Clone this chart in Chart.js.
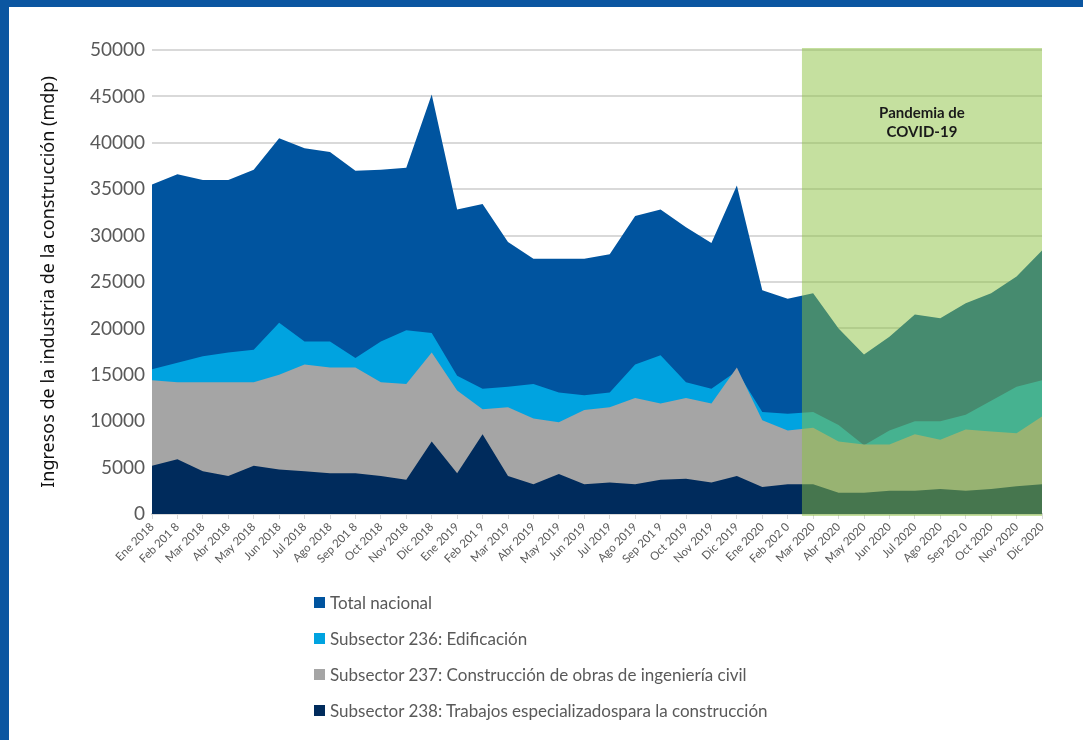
<!DOCTYPE html>
<html lang="es">
<head>
    <meta charset="UTF-8">
    <title>Ingresos de la industria de la construcción</title>
    <script src="https://cdn.jsdelivr.net/npm/chart.js"></script>
    <style>
        html, body {
            margin: 0;
            padding: 0;
            background: #fff;
        }
        .page {
            position: relative;
            width: 1083px;
            height: 740px;
            overflow: hidden;
            background: #fff;
        }
        .bar-top {
            position: absolute;
            left: 0; top: 0;
            width: 1083px; height: 7px;
            background: #0b56a1;
        }
        .bar-left {
            position: absolute;
            left: 0; top: 0;
            width: 9px; height: 740px;
            background: #0b56a1;
        }
        #chart {
            position: absolute;
            left: 0; top: 0;
        }
        .legend {
            position: absolute;
            left: 314px;
            top: 584px;
            font-family: Lato, "Noto Sans", sans-serif;
            font-size: 17px;
            color: #595959;
        }
        .legend div {
            height: 36px;
            display: flex;
            align-items: center;
        }
        .legend span.box {
            display: inline-block;
            width: 11px;
            height: 11px;
            margin-right: 5px;
        }
    </style>
</head>
<body>
<div class="page">
    <canvas id="chart" width="1083" height="740"></canvas>
    <div class="bar-top"></div>
    <div class="bar-left"></div>
    <div class="legend" id="legend"></div>
</div>

<script>
    const months = ['Ene 2018', 'Feb 201 8', 'Mar 2018', 'Abr 2018', 'May 2018', 'Jun 2018', 'Jul 2018', 'Ago 2018',
        'Sep 201 8', 'Oct 2018', 'Nov 2018', 'Dic 2018', 'Ene 2019', 'Feb 201 9', 'Mar 2019', 'Abr 2019',
        'May 2019', 'Jun 2019', 'Jul 2019', 'Ago 2019', 'Sep 201 9', 'Oct 2019', 'Nov 2019', 'Dic 2019',
        'Ene 2020', 'Feb 202 0', 'Mar 2020', 'Abr 2020', 'May 2020', 'Jun 2020', 'Jul 2020', 'Ago 2020',
        'Sep 202 0', 'Oct 2020', 'Nov 2020', 'Dic 2020'];

    const totalNacional = [35500, 36600, 36000, 36000, 37100, 40500, 39400, 39000, 37000, 37100, 37300, 45200,
        32800, 33400, 29300, 27500, 27500, 27500, 28000, 32100, 32800, 30900, 29200, 35400,
        24100, 23200, 23800, 20000, 17200, 19100, 21500, 21100, 22700, 23800, 25600, 28400];

    const edificacion = [15600, 16300, 17000, 17400, 17700, 20600, 18600, 18600, 16800, 18600, 19800, 19500,
        14900, 13500, 13700, 14000, 13100, 12800, 13100, 16100, 17100, 14200, 13500, 15400,
        11000, 10800, 11000, 9600, 7400, 9000, 10000, 10000, 10700, 12200, 13700, 14400];

    const obrasCivil = [14400, 14200, 14200, 14200, 14200, 15000, 16100, 15800, 15800, 14200, 14000, 17400,
        13300, 11300, 11500, 10300, 9900, 11200, 11500, 12500, 11900, 12500, 11900, 15800,
        10100, 9000, 9300, 7800, 7500, 7500, 8600, 8000, 9100, 8900, 8700, 10500];

    const especializados = [5200, 5900, 4600, 4100, 5200, 4800, 4600, 4400, 4400, 4100, 3700, 7800,
        4400, 8600, 4100, 3200, 4300, 3200, 3400, 3200, 3700, 3800, 3400, 4100,
        2900, 3200, 3200, 2300, 2300, 2500, 2500, 2700, 2500, 2700, 3000, 3200];

    const seriesNames = ['Total nacional', 'Subsector 236: Edificación',
        'Subsector 237: Construcción de obras de ingeniería civil',
        'Subsector 238: Trabajos especializadospara la construcción'];
    const seriesColors = ['#00549f', '#00a3e0', '#a5a5a5', '#002b5c'];
    const seriesData = [totalNacional, edificacion, obrasCivil, especializados];

    const pandemicLabel = ['Pandemia de', 'COVID-19'];
    const pandemicFrom = 'Feb 202 0';

    // green band for the covid period, drawn over the areas
    const pandemicBand = {
        id: 'pandemicBand',
        afterDatasetsDraw(chart) {
            const { ctx, chartArea, scales } = chart;
            const x = scales.x, y = scales.y;
            const i = months.indexOf(pandemicFrom);
            const step = x.getPixelForValue(i + 1) - x.getPixelForValue(i);
            const x1 = x.getPixelForValue(i) + step * 0.56;
            const x2 = chartArea.right;
            const top = y.getPixelForValue(50000) - 2;
            ctx.save();
            ctx.fillStyle = 'rgba(140, 193, 64, 0.5)';
            ctx.fillRect(x1, top, x2 - x1, chartArea.bottom + 2 - top);
            ctx.fillStyle = '#1a1a1a';
            ctx.font = 'bold 15px Lato, "Noto Sans", sans-serif';
            ctx.textAlign = 'center';
            ctx.textBaseline = 'middle';
            const cx = (x1 + x2) / 2;
            ctx.fillText(pandemicLabel[0], cx, 113);
            ctx.fillText(pandemicLabel[1], cx, 132);
            ctx.restore();
        }
    };

    new Chart(document.getElementById('chart').getContext('2d'), {
        type: 'line',
        data: {
            labels: months,
            datasets: seriesData.map((d, k) => ({
                label: seriesNames[k],
                data: d,
                backgroundColor: seriesColors[k],
                borderWidth: 0,
                pointRadius: 0,
                fill: 'origin',
                tension: 0,
                order: 4 - k
            }))
        },
        options: {
            responsive: false,
            animation: false,
            layout: {
                padding: { top: 50, right: 41, bottom: 146, left: 0 }
            },
            plugins: {
                legend: { display: false },
                tooltip: { enabled: false }
            },
            scales: {
                x: {
                    offset: false,
                    grid: {
                        drawOnChartArea: false,
                        drawTicks: true,
                        tickLength: 5,
                        color: '#d9d9d9',
                        lineWidth: 1
                    },
                    border: { color: '#d9d9d9', width: 2 },
                    ticks: {
                        autoSkip: false,
                        maxRotation: 45,
                        minRotation: 45,
                        padding: 1,
                        color: '#595959',
                        font: { family: 'Lato', size: 11.5 }
                    },
                    afterFit(scale) { scale.height = 80; }
                },
                y: {
                    min: 0,
                    max: 50000,
                    grid: {
                        color: '#d9d9d9',
                        lineWidth: 2,
                        drawTicks: false
                    },
                    border: { display: false },
                    ticks: {
                        stepSize: 5000,
                        padding: 7,
                        color: '#595959',
                        font: { family: 'Lato', size: 19 },
                        callback: v => String(v)
                    },
                    title: {
                        display: true,
                        text: 'Ingresos de la industria de la construcción (mdp)',
                        color: '#111',
                        font: { family: '"Noto Sans"', size: 18 },
                        padding: { top: 38, bottom: 0 }
                    },
                    afterFit(scale) { scale.width = 152; }
                }
            }
        },
        plugins: [pandemicBand]
    });

    const legend = document.getElementById('legend');
    seriesNames.forEach((name, k) => {
        const row = document.createElement('div');
        row.innerHTML = '<span class="box" style="background:' + seriesColors[k] + '"></span>' + name;
        legend.appendChild(row);
    });
</script>
</body>
</html>
